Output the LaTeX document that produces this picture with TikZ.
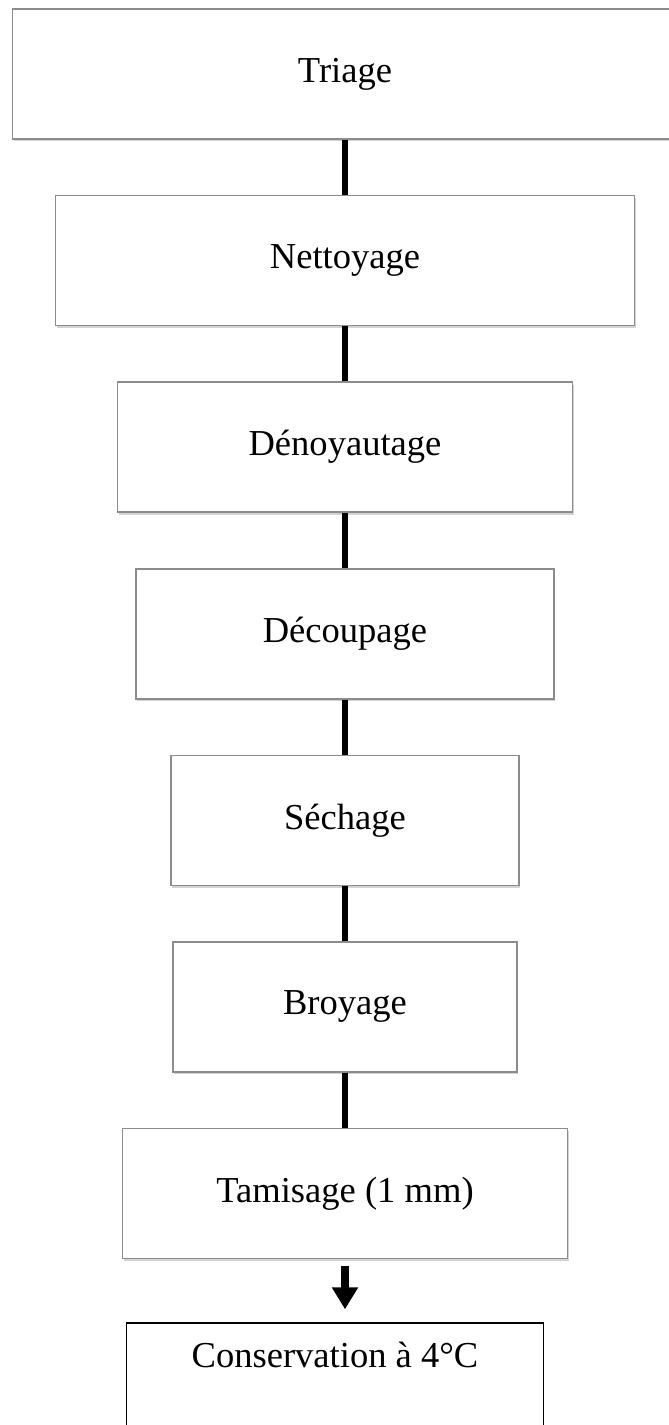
\documentclass[tikz,border=0pt]{standalone}
\usepackage{fontspec}
\setmainfont{Liberation Serif}
\usepackage{tikz}
\usetikzlibrary{arrows.meta,positioning,shadows}
\definecolor{boxgray}{RGB}{140,140,140}

\begin{document}
\begin{tikzpicture}[
    stage/.style={rectangle, draw=boxgray, line width=0.9pt, fill=white, minimum height=2.6cm,
        font=\fontsize{20.8}{25}\selectfont,
        drop shadow={shadow xshift=0.6pt, shadow yshift=-1.4pt, opacity=0.35}},
    link/.style={line width=3pt},
    arr/.style={-{Triangle[length=0.44cm, width=0.5cm]}, line width=4pt},
    node distance=1.1cm
]
\useasboundingbox (0,0) rectangle (13.36,-28.5);

\node[stage, minimum width=13.3cm] (triage) at (6.9,-1.48) {Triage};
\node[stage, minimum width=11.58cm, below=of triage] (nettoy) {Nettoyage};
\node[stage, minimum width=9.1cm, below=of nettoy] (denoy) {Dénoyautage};
\node[stage, minimum width=8.36cm, below=of denoy] (decoup) {Découpage};
\node[stage, minimum width=6.96cm, below=of decoup] (sechage) {Séchage};
\node[stage, minimum width=6.88cm, below=of sechage] (broyage) {Broyage};
\node[stage, minimum width=8.9cm, below=of broyage] (tamis) {Tamisage (1 mm)};

\node[rectangle, draw=black, line width=1.1pt, minimum width=8.34cm, inner sep=0pt,
    text height=0.88cm, text depth=1.74cm, font=\fontsize{20.8}{25}\selectfont,
    below=1.26cm of tamis, xshift=-0.2cm] (conserv) {Conservation à 4°C};

\draw[link] (triage) -- (nettoy);
\draw[link] (nettoy) -- (denoy);
\draw[link] (denoy) -- (decoup);
\draw[link] (decoup) -- (sechage);
\draw[link] (sechage) -- (broyage);
\draw[link] (broyage) -- (tamis);
\draw[arr, shorten <=0.14cm, shorten >=0.26cm] (tamis) -- (tamis |- conserv.north);
\end{tikzpicture}
\end{document}
